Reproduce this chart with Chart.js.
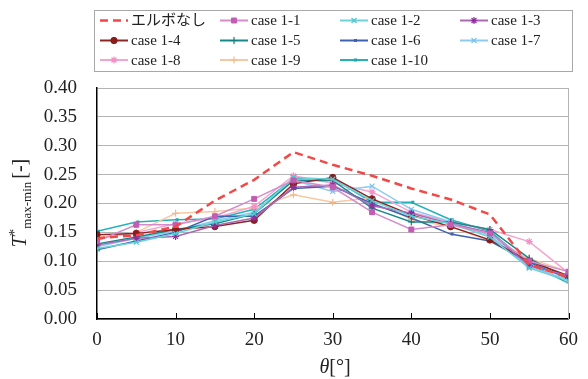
<!DOCTYPE html>
<html>
<head>
<meta charset="utf-8">
<script src="https://cdn.jsdelivr.net/npm/chart.js@4/dist/chart.umd.min.js"></script>
<style>
  html, body { margin: 0; padding: 0; background: #fff; }
  #wrap { width: 588px; height: 379px; position: relative; }
</style>
</head>
<body>
<div id="wrap"><canvas id="c" width="588" height="379"></canvas></div>
<script>
// Angle θ [°]
const theta = [0, 5, 10, 15, 20, 25, 30, 35, 40, 45, 50, 55, 60];

// Normalised temperature difference T*max-min for each case
const noElbow  = [0.140, 0.145, 0.160, 0.205, 0.241, 0.289, 0.267, 0.248, 0.226, 0.207, 0.181, 0.094, 0.072];
const case1_1  = [0.135, 0.163, 0.163, 0.178, 0.208, 0.240, 0.228, 0.185, 0.155, 0.163, 0.148, 0.100, 0.082];
const case1_2  = [0.122, 0.133, 0.148, 0.168, 0.182, 0.245, 0.242, 0.205, 0.178, 0.165, 0.142, 0.088, 0.066];
const case1_3  = [0.128, 0.140, 0.143, 0.162, 0.175, 0.228, 0.232, 0.196, 0.183, 0.165, 0.150, 0.092, 0.075];
const case1_4  = [0.146, 0.148, 0.155, 0.160, 0.171, 0.234, 0.245, 0.208, 0.180, 0.160, 0.137, 0.100, 0.075];
const case1_5  = [0.130, 0.142, 0.155, 0.165, 0.182, 0.240, 0.240, 0.192, 0.168, 0.168, 0.155, 0.105, 0.070];
const case1_6  = [0.120, 0.135, 0.150, 0.178, 0.178, 0.226, 0.230, 0.200, 0.175, 0.147, 0.135, 0.098, 0.070];
const case1_7  = [0.125, 0.140, 0.152, 0.170, 0.185, 0.240, 0.221, 0.230, 0.190, 0.168, 0.145, 0.090, 0.068];
const case1_8  = [0.138, 0.150, 0.165, 0.175, 0.195, 0.248, 0.235, 0.220, 0.185, 0.168, 0.155, 0.134, 0.080];
const case1_9  = [0.140, 0.150, 0.183, 0.186, 0.192, 0.215, 0.202, 0.210, 0.172, 0.160, 0.135, 0.105, 0.082];
const case1_10 = [0.152, 0.168, 0.172, 0.173, 0.190, 0.243, 0.243, 0.202, 0.202, 0.172, 0.152, 0.095, 0.062];

const seriesNames = ['エルボなし', 'case 1-1', 'case 1-2', 'case 1-3', 'case 1-4', 'case 1-5',
                     'case 1-6', 'case 1-7', 'case 1-8', 'case 1-9', 'case 1-10'];
const seriesValues = [noElbow, case1_1, case1_2, case1_3, case1_4, case1_5,
                      case1_6, case1_7, case1_8, case1_9, case1_10];

const xTicks = [0, 10, 20, 30, 40, 50, 60];
const yTicks = [0.00, 0.05, 0.10, 0.15, 0.20, 0.25, 0.30, 0.35, 0.40];

const SERIF = "'Liberation Serif', 'Times New Roman', 'Noto Sans CJK JP', serif";

// line colour, marker colour, marker style, marker radius, marker stroke
const styles = [
  { line: '#f24848', mark: '#f24848', point: false, dash: [8, 5], width: 2.5 },
  { line: '#d48ccb', mark: '#c25db3', point: 'rect', r: 3.5, bw: 1 },
  { line: '#6ad3da', mark: '#4fc6cf', point: 'crossRot', r: 3.5, bw: 1.2 },
  { line: '#ac68b4', mark: '#8e2f9c', point: 'star', r: 3.5, bw: 1.2 },
  { line: '#8e2525', mark: '#8a1c1c', point: 'circle', r: 3.2, bw: 1 },
  { line: '#17898a', mark: '#0f7f80', point: 'cross', r: 3.5, bw: 1.2 },
  { line: '#3d62b2', mark: '#3d62b2', point: 'dash', r: 3, bw: 3 },
  { line: '#8ccaf0', mark: '#7cc0ee', point: 'crossRot', r: 3.5, bw: 1.2 },
  { line: '#f5a3cf', mark: '#f28fc6', point: 'star', r: 3.5, bw: 1.2 },
  { line: '#f8c8a2', mark: '#f5b88a', point: 'cross', r: 3.5, bw: 1.2 },
  { line: '#25b1b8', mark: '#1aa8b0', point: 'dash', r: 3, bw: 3 }
];

const datasets = seriesNames.map((name, i) => {
  const s = styles[i];
  return {
    label: name,
    data: theta.map((t, k) => ({ x: t, y: seriesValues[i][k] })),
    borderColor: s.line,
    backgroundColor: s.mark,
    borderWidth: s.width || 1.5,
    borderDash: s.dash || [],
    pointStyle: s.point,
    pointRadius: s.point ? s.r : 0,
    pointBorderColor: s.mark,
    pointBackgroundColor: s.mark,
    pointBorderWidth: s.bw || 1,
    tension: 0,
    fill: false
  };
});

// Legend box, axis titles and inward tick marks
const decorations = {
  id: 'decorations',
  afterDraw(chart) {
    const ctx = chart.ctx;
    const area = chart.chartArea;
    const xs = chart.scales.x;
    ctx.save();

    // right frame line
    ctx.strokeStyle = '#b4b4b4';
    ctx.lineWidth = 1;
    ctx.beginPath();
    ctx.moveTo(Math.round(area.right) - 0.5, area.top);
    ctx.lineTo(Math.round(area.right) - 0.5, area.bottom);
    ctx.stroke();

    // inward tick marks on the θ axis
    ctx.strokeStyle = '#000';
    ctx.lineWidth = 1;
    xTicks.forEach(v => {
      const px = Math.round(xs.getPixelForValue(v)) + 0.5;
      ctx.beginPath();
      ctx.moveTo(px, area.bottom);
      ctx.lineTo(px, area.bottom - 6);
      ctx.stroke();
    });

    // legend
    const box = { x: 94.5, y: 10.5, w: 478, h: 61 };
    ctx.fillStyle = '#fff';
    ctx.fillRect(box.x, box.y, box.w, box.h);
    ctx.strokeStyle = '#a8a8a8';
    ctx.lineWidth = 1;
    ctx.strokeRect(box.x, box.y, box.w, box.h);
    const colX = [100, 220, 340, 460];
    const rowY = [20.5, 40.5, 60];
    ctx.font = '15px ' + SERIF;
    ctx.textBaseline = 'middle';
    ctx.textAlign = 'left';
    chart.data.datasets.forEach((ds, i) => {
      const cx = colX[i % 4];
      const cy = rowY[Math.floor(i / 4)];
      ctx.save();
      ctx.strokeStyle = ds.borderColor;
      ctx.lineWidth = i === 0 ? 2.5 : 2;
      ctx.setLineDash(ds.borderDash || []);
      ctx.beginPath();
      ctx.moveTo(cx, cy);
      ctx.lineTo(cx + 28, cy);
      ctx.stroke();
      ctx.setLineDash([]);
      if (ds.pointStyle) {
        ctx.fillStyle = ds.pointBackgroundColor;
        ctx.strokeStyle = ds.pointBorderColor;
        ctx.lineWidth = ds.pointBorderWidth;
        Chart.helpers.drawPoint(ctx, {
          pointStyle: ds.pointStyle, radius: ds.pointRadius,
          borderWidth: ds.pointBorderWidth, rotation: 0
        }, cx + 14, cy);
      }
      ctx.restore();
      ctx.fillStyle = '#222';
      ctx.fillText(ds.label, cx + 31, cy + 1);
    });

    // y-axis title: T*max-min [-]
    ctx.save();
    ctx.translate(25.5, 203);
    ctx.rotate(-Math.PI / 2);
    ctx.fillStyle = '#222';
    ctx.textBaseline = 'alphabetic';
    const parts = [
      { t: 'T', f: 'italic 20px ' + SERIF, dy: 0, gap: 0 },
      { t: '*', f: '15px ' + SERIF, dy: -7, gap: 0 },
      { t: 'max-min', f: '13px ' + SERIF, dy: 5, gap: 0 },
      { t: '[-]', f: '20px ' + SERIF, dy: 0, gap: 3 }
    ];
    let total = 0;
    parts.forEach(p => { ctx.font = p.f; p.w = ctx.measureText(p.t).width; total += p.w + p.gap; });
    let tx = -total / 2;
    parts.forEach(p => { ctx.font = p.f; tx += p.gap; ctx.fillText(p.t, tx, p.dy); tx += p.w; });
    ctx.restore();

    // x-axis title: θ[°]
    ctx.fillStyle = '#222';
    ctx.textBaseline = 'alphabetic';
    const xParts = [
      { t: 'θ', f: 'italic 20px ' + SERIF },
      { t: '[°]', f: '20px ' + SERIF }
    ];
    let xw = 0;
    xParts.forEach(p => { ctx.font = p.f; p.w = ctx.measureText(p.t).width; xw += p.w; });
    let xx = 335 - xw / 2;
    xParts.forEach(p => { ctx.font = p.f; ctx.fillText(p.t, xx, 373); xx += p.w; });

    ctx.restore();
  }
};

new Chart(document.getElementById('c'), {
  type: 'line',
  data: { datasets },
  options: {
    responsive: false,
    animation: false,
    devicePixelRatio: 1,
    layout: { padding: { top: 88, right: 15, left: 0, bottom: 0 } },
    plugins: { legend: { display: false }, tooltip: { enabled: false } },
    scales: {
      x: {
        type: 'linear',
        min: 0, max: 60,
        afterFit: s => { s.height = 60; },
        afterBuildTicks: s => { s.ticks = xTicks.map(v => ({ value: v })); },
        ticks: {
          font: { family: SERIF, size: 19 }, color: '#222', padding: 10,
          maxRotation: 0, callback: v => String(v)
        },
        grid: { display: true, drawOnChartArea: false, drawTicks: false },
        border: { color: '#000', width: 1.5 }
      },
      y: {
        min: 0, max: 0.4,
        afterFit: s => { s.width = 97; },
        afterBuildTicks: s => { s.ticks = yTicks.map(v => ({ value: v })); },
        ticks: {
          font: { family: SERIF, size: 19 }, color: '#222', padding: 20,
          callback: v => Number(v).toFixed(2)
        },
        grid: { color: '#b4b4b4', lineWidth: 1, drawTicks: false },
        border: { color: '#000', width: 1.5 }
      }
    }
  },
  plugins: [decorations]
});
</script>
</body>
</html>
